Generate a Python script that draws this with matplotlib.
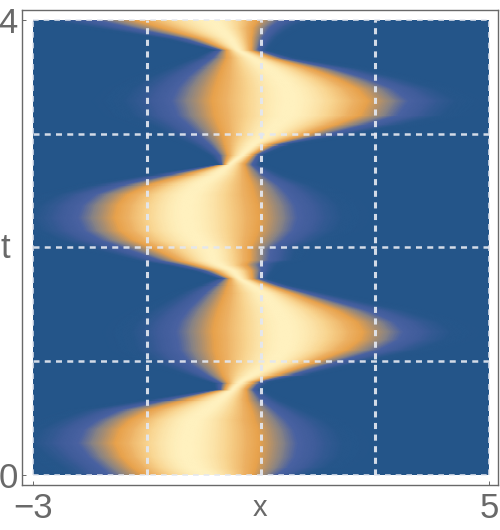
import numpy as np
from matplotlib import pyplot as plt
from matplotlib.colors import LinearSegmentedColormap
from matplotlib.patches import Rectangle

# band, one row per t: orange edge left, brightest point, orange edge right
t_rows = [0.00, 0.07, 0.16, 0.28, 0.40, 0.48, 0.57, 0.66, 0.75, 0.81, 0.88, 0.98, 1.10, 1.19, 1.26, 1.35, 1.45,
          1.60, 1.67, 1.73, 1.80, 1.85, 1.89, 1.98, 2.07, 2.15, 2.26, 2.37, 2.46, 2.55, 2.64, 2.73,
          2.81, 2.90, 2.99, 3.08, 3.16, 3.29, 3.40, 3.49, 3.58, 3.67, 3.74, 3.84, 3.93, 4.00]
x_left = [-1.07, -1.26, -1.44, -1.56, -1.47, -1.30, -0.95, -0.30, 0.37, 0.42, 0.33, 0.25, 0.19, 0.18, 0.16, 0.19, 0.25,
          0.37, 0.42, 0.46, 0.19, -0.16, -0.46, -0.82, -1.25, -1.47, -1.56, -1.51, -1.35, -0.95, -0.30, 0.37,
          0.42, 0.37, 0.32, 0.25, 0.19, 0.14, 0.19, 0.25, 0.32, 0.40, 0.40, -0.07, -0.72, -1.18]
x_peak = [0.05, -0.19, -0.30, -0.30, -0.25, -0.19, 0.05, 0.28, 0.51, 0.63, 0.86, 1.21, 1.39, 1.42, 1.42, 1.39, 1.28,
          1.04, 0.84, 0.63, 0.51, 0.28, 0.16, 0.11, -0.12, -0.25, -0.30, -0.30, -0.25, -0.07, 0.23, 0.46,
          0.68, 0.86, 1.11, 1.28, 1.46, 1.51, 1.46, 1.33, 1.11, 0.86, 0.60, 0.46, 0.28, 0.16]
x_right = [0.86, 0.91, 0.95, 0.98, 0.95, 0.89, 0.84, 0.77, 0.75, 0.86, 1.33, 1.91, 2.51, 2.74, 2.79, 2.67, 2.33,
           1.56, 1.16, 0.86, 0.84, 0.75, 0.81, 0.81, 0.89, 0.95, 0.98, 0.95, 0.89, 0.84, 0.77, 0.72,
           0.86, 1.16, 1.81, 2.33, 2.74, 2.88, 2.68, 2.33, 1.86, 1.21, 0.84, 0.84, 0.86, 0.95]

x_grid = [-1, 1, 3]
t_grid = [1, 2, 3]

cmap_stops = [(0.0, '#245589'), (0.035, '#26568a'), (0.11, '#3f5c9a'), (0.2, '#4a62a2'), (0.3, '#8a8484'),
              (0.5, '#e8a24c'), (0.62, '#edb163'), (0.8, '#f8d28c'), (1.0, '#fff1bf')]
grey = '#696969'
plt.rcParams['font.family'] = ['Liberation Sans', 'DejaVu Sans']

dens = LinearSegmentedColormap.from_list('dens', cmap_stops)

fig = plt.figure(figsize=(5, 5.3), dpi=100)
ax = fig.add_axes([22 / 500, 1 - 485 / 530, 476 / 500, 475 / 530])
ax.set_xlim(-3 - 11 / 57, 5 + 9 / 57)
ax.set_ylim(-10 / 113.75, 4 + 10 / 113.75)

bg = Rectangle((-3, 0), 8, 4, facecolor=dens(0.0), edgecolor='none', zorder=1)
ax.add_patch(bg)

# mesh follows the band, u is the distance from the peak in units of the edge distance
u = np.linspace(-4, 4, 241)
left = np.array(x_left)
peak = np.array(x_peak)
right = np.array(x_right)
X = peak[:, None] + np.where(u < 0, u, 0) * (peak - left)[:, None] + np.where(u > 0, u, 0) * (right - peak)[:, None]
T = np.repeat(np.array(t_rows)[:, None], len(u), axis=1)
V = np.repeat(np.exp(-0.5 * (1.18 * u) ** 2)[None, :], len(t_rows), axis=0)
mesh = ax.pcolormesh(X, T, V, shading='gouraud', cmap=dens, vmin=0, vmax=1, zorder=2)
mesh.set_clip_path(Rectangle((-3, 0), 8, 4, transform=ax.transData))

dash_kw = dict(colors='#e3e7f0', alpha=0.92, zorder=3, capstyle='butt')
ax.vlines(x_grid, 0, 4, lw=2.2, linestyles=[(0, (2.0, 1.8))], **dash_kw)
ax.hlines(t_grid, -3, 5, lw=1.8, linestyles=[(0, (2.4, 2.1))], **dash_kw)
ax.vlines([-3, 5], 0, 4, lw=1.2, linestyles=[(0, (3.4, 3.0))], **dash_kw)
ax.hlines([0, 4], -3, 5, lw=1.2, linestyles=[(0, (3.4, 3.0))], **dash_kw)

for s in ax.spines.values():
    s.set_color(grey)
    s.set_linewidth(1.0)

ax.set_xticks([-3, 5], ['\u22123', '5'])
ax.set_yticks([0, 4], ['0', '4'])
ax.tick_params(direction='in', length=3, width=0.7, color=grey, labelcolor=grey, labelsize=25, pad=3)
ax.tick_params(axis='x', pad=5)

fig.text(260 / 500, 1 - 508 / 530, 'x', color=grey, fontsize=21, ha='center', va='center')
fig.text(5 / 500, 1 - 249 / 530, 't', color=grey, fontsize=25, ha='center', va='center')

fig.savefig('out.png', dpi=100)
